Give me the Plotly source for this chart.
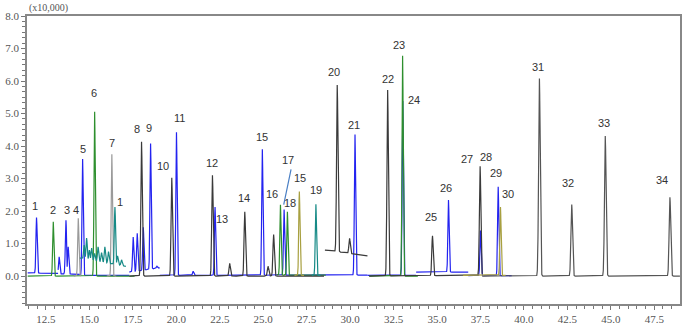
import numpy as np
import plotly.graph_objects as go

# ---------------- data ----------------
# retention time (min) and peak top (x10,000 counts) per detector trace segment
blue_a_rt = [11.96, 13.26, 13.65, 13.78]
blue_a_h = [1.80, 0.59, 1.72, 0.90]
blue_b_rt = [14.61]
blue_b_h = [3.60]
blue_c_rt = [17.52, 17.75, 18.10, 18.52, 18.88]
blue_c_h = [1.20, 1.32, 1.50, 4.08, 0.30]
blue_d_rt = [20.01, 20.97, 22.23, 24.95, 26.20, 30.28]
blue_d_h = [4.42, 0.15, 2.12, 3.90, 2.05, 4.36]
blue_e_rt = [33.03, 35.66]
blue_e_h = [5.39, 2.34]
blue_f_rt = [37.50, 38.52]
blue_f_h = [1.40, 2.75]

black_a_rt = [18.00, 19.74, 22.08, 23.07, 23.94, 25.28, 25.60]
black_a_h = [4.13, 3.02, 3.10, 0.39, 1.98, 0.30, 1.28]
black_b_rt = [29.26, 29.97]
black_b_h = [5.88, 1.16]
black_c_rt = [32.16, 34.74, 37.48]
black_c_h = [5.72, 1.24, 3.38]
black_d_rt = [40.89, 42.75, 44.68, 48.40]
black_d_h = [6.08, 2.20, 4.31, 2.42]

gray_rt = [14.36, 16.29]
gray_h = [1.78, 3.75]

green_a_rt = [12.92, 15.30]
green_a_h = [1.67, 5.06]
green_b_rt = [25.99, 26.39]
green_b_h = [2.20, 1.98]
green_c_rt = [33.02]
green_c_h = [6.78]

teal_a_rt = [14.55, 14.70, 14.84, 15.00, 15.13, 15.30, 15.50, 15.70, 15.89, 16.10, 16.47, 16.62, 16.85]
teal_a_h = [0.55, 0.95, 1.17, 0.80, 0.86, 0.70, 0.90, 0.72, 0.90, 0.75, 2.12, 0.62, 0.50]
teal_b_rt = [28.03]
teal_b_h = [2.21]

olive_a_rt = [27.08]
olive_a_h = [2.60]
olive_b_rt = [38.65]
olive_b_h = [2.13]

# peak labels: text, label anchor (min, x10,000)
label_text = ["1", "2", "3", "4", "5", "6", "7", "1", "8", "9", "10", "11", "12", "13",
              "14", "15", "16", "17", "18", "15", "19", "20", "21", "22", "23", "24",
              "25", "26", "27", "28", "29", "30", "31", "32", "33", "34"]
label_x = [11.87, 12.88, 13.71, 14.22, 14.63, 15.26, 16.29, 16.75, 17.73, 18.42, 19.22, 20.20,
           22.04, 22.61, 23.88, 24.91, 25.49, 26.41, 26.52, 27.10, 28.02, 29.05, 30.20,
           32.16, 32.84, 33.65, 34.63, 35.52, 36.70, 37.79, 38.42, 39.11, 40.83, 42.56,
           44.63, 47.97]
label_y = [2.15, 2.02, 2.03, 2.03, 3.91, 5.64, 4.10, 2.28, 4.52, 4.56, 3.38, 4.85,
           3.47, 1.77, 2.41, 4.28, 2.52, 3.57, 2.25, 3.02, 2.65, 6.28, 4.65,
           6.06, 7.11, 5.41, 1.82, 2.71, 3.60, 3.66, 3.17, 2.52, 6.43, 2.86,
           4.72, 2.95]

x_ticks = [12.5, 15.0, 17.5, 20.0, 22.5, 25.0, 27.5, 30.0, 32.5, 35.0, 37.5, 40.0, 42.5, 45.0, 47.5]
y_ticks = [0.0, 1.0, 2.0, 3.0, 4.0, 5.0, 6.0, 7.0, 8.0]

BLUE = "#2323f0"
BLACK = "#3a3a3a"
GRAY = "#9a9a9a"
GREEN = "#2e8f2e"
TEAL = "#168a86"
OLIVE = "#a8a040"

# segment definitions: (x start, x end, baseline start, baseline end, rts, heights, sigma, color)
segments = [
    (11.45, 13.20, 0.10, 0.08, blue_a_rt[:1], blue_a_h[:1], 0.035, BLUE),
    (13.20, 14.45, 0.07, 0.05, blue_a_rt[1:], blue_a_h[1:], 0.035, BLUE),
    (14.45, 17.30, 0.02, 0.02, blue_b_rt, blue_b_h, 0.035, BLUE),
    (17.30, 19.05, 0.12, 0.25, blue_c_rt, blue_c_h, 0.035, BLUE),
    (19.05, 31.00, 0.02, 0.03, blue_d_rt, blue_d_h, 0.035, BLUE),
    (31.00, 33.80, 0.02, 0.02, blue_e_rt[:1], blue_e_h[:1], 0.035, BLUE),
    (33.80, 36.80, 0.12, 0.12, blue_e_rt[1:], blue_e_h[1:], 0.035, BLUE),
    (36.80, 39.30, 0.01, 0.01, blue_f_rt, blue_f_h, 0.035, BLUE),
    (11.45, 17.60, 0.0, 0.0, green_a_rt, green_a_h, 0.035, GREEN),
    (25.80, 28.60, 0.03, 0.03, green_b_rt, green_b_h, 0.035, GREEN),
    (31.10, 33.90, 0.0, 0.0, green_c_rt, green_c_h, 0.035, GREEN),
    (14.10, 14.50, 0.0, 0.0, gray_rt[:1], gray_h[:1], 0.035, GRAY),
    (16.00, 16.55, 0.0, 0.0, gray_rt[1:], gray_h[1:], 0.035, GRAY),
    (17.30, 28.50, 0.0, 0.0, black_a_rt, black_a_h, 0.04, BLACK),
    (28.55, 31.00, 0.80, 0.62, black_b_rt, black_b_h, 0.04, BLACK),
    (31.10, 37.60, 0.0, 0.02, black_c_rt, black_c_h, 0.04, BLACK),
    (37.60, 48.98, 0.0, 0.0, black_d_rt, black_d_h, 0.045, "#555555"),
    (14.45, 17.10, 0.55, 0.30, teal_a_rt, teal_a_h, 0.035, TEAL),
    (27.80, 28.30, 0.02, 0.02, teal_b_rt, teal_b_h, 0.035, TEAL),
    (26.80, 27.35, 0.02, 0.02, olive_a_rt, olive_a_h, 0.035, OLIVE),
    (36.50, 38.95, 0.02, 0.02, olive_b_rt, olive_b_h, 0.035, OLIVE),
]


def build(x0, x1, b0, b1, rts, hs, sigma):
    x = np.arange(x0, x1, 0.004)
    base = b0 + (b1 - b0) * (x - x0) / (x1 - x0)
    y = base.copy()
    for rt, h in zip(rts, hs):
        b_rt = b0 + (b1 - b0) * (rt - x0) / (x1 - x0)
        g = np.exp(-0.5 * ((x - rt) / sigma) ** 2)
        y = np.maximum(y, base + (h - b_rt) * g)
    return x, y


fig = go.Figure()
for x0, x1, b0, b1, rts, hs, s, col in segments:
    xs, ys = build(x0, x1, b0, b1, rts, hs, s)
    fig.add_trace(go.Scatter(x=xs, y=ys, mode="lines",
                             line=dict(color=col, width=1.2), hoverinfo="skip"))

for t, lx, ly in zip(label_text, label_x, label_y):
    fig.add_annotation(x=lx, y=ly, text=t, showarrow=False,
                       font=dict(family="Liberation Sans", size=11, color="#333333"))

# leader line for peak 17
fig.add_annotation(x=26.18, y=2.2, text="", showarrow=True, arrowhead=0,
                   arrowcolor="#4a7fc4", arrowwidth=1.2, ax=26.62, ay=3.33,
                   axref="x", ayref="y")

fig.add_annotation(x=0, y=1, xref="paper", yref="paper", text="(x10,000)",
                   showarrow=False, xanchor="left", yanchor="bottom",
                   font=dict(family="Liberation Serif", size=10, color="#555555"))

axis_font = dict(family="Liberation Serif", size=11, color="#555555")
fig.update_layout(
    width=695, height=328,
    margin=dict(l=27, r=15, t=16, b=24, autoexpand=False),
    paper_bgcolor="white", plot_bgcolor="white",
    showlegend=False,
    xaxis=dict(range=[11.41, 48.98], tickvals=x_ticks, tickformat=".1f",
               ticks="outside", ticklen=4, tickcolor="#777777", automargin=False,
               showline=True, linecolor="#888888", linewidth=1.5, mirror=True,
               showgrid=False, zeroline=False, tickfont=axis_font,
               minor=dict(dtick=0.5, tick0=0, ticks="outside", ticklen=3, tickcolor="#777777")),
    yaxis=dict(range=[-0.86, 8.0], tickvals=y_ticks, tickformat=".1f",
               ticks="outside", ticklen=4, tickcolor="#777777", automargin=False,
               showline=True, linecolor="#888888", linewidth=1.5, mirror=True,
               showgrid=False, zeroline=False, tickfont=axis_font,
               minor=dict(dtick=1 / 6, tick0=0, ticks="outside", ticklen=3, tickcolor="#777777")),
)

fig.write_html("out.html")
